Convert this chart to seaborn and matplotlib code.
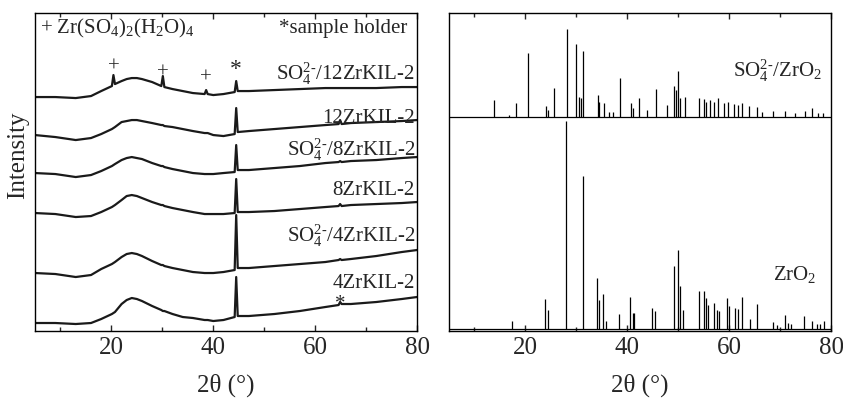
import matplotlib
matplotlib.use('Agg')
import matplotlib.pyplot as plt
import seaborn as sns
import pandas as pd
from matplotlib.ticker import MultipleLocator

# Left panel: XRD traces (stacked, arbitrary units)
two_theta = [5, 9, 13, 16, 18, 20.1, 20.4, 20.7, 22, 23, 24, 25, 26, 28, 29.8, 30.1, 30.4,
             32, 34, 36, 38.3, 38.6, 38.9, 40, 42, 44.2, 44.5, 44.8, 47, 52, 57, 62,
             64.6, 64.9, 65.2, 67, 72, 77, 80]
so4_12zr = [234, 234, 233, 235, 240, 245, 256, 247, 250, 252, 253, 253, 252, 249, 245, 255, 244,
            242, 240, 238, 237, 241, 237, 236, 237, 239, 250, 240, 240, 241, 242, 243,
            243, 243, 243, 243, 243, 244, 244]
zr12 = [196, 194, 191, 193, 197, 202, 203, 204, 209, 210, 211, 211, 210, 208, 206, 206, 205,
        204, 202, 200, 198, 198, 198, 196, 195, 197, 223, 199, 200, 202, 204, 206,
        207, 211, 207, 208, 209, 210, 211]
so4_8zr = [158, 157, 154, 156, 160, 165, 166, 167, 171, 173, 174, 173, 172, 168, 165, 165, 164,
           162, 160, 158, 157, 157, 157, 157, 158, 159, 186, 161, 161, 163, 165, 168,
           169, 170, 169, 170, 171, 173, 174]
zr8 = [118, 117, 114, 115, 119, 124, 125, 126, 131, 135, 136, 135, 133, 129, 126, 126, 125,
       123, 121, 119, 117, 117, 117, 117, 117, 118, 152, 119, 119, 120, 122, 124,
       125, 127, 125, 126, 127, 128, 129]
so4_4zr = [58, 57, 54, 56, 62, 67, 68, 69, 74, 77, 78, 77, 75, 70, 66, 66, 65,
           63, 61, 59, 58, 58, 58, 58, 59, 61, 116, 63, 63, 65, 67, 69,
           71, 72, 71, 72, 75, 79, 81]
zr4 = [8, 8, 7, 8, 12, 17, 18, 19, 27, 31, 33, 32, 30, 25, 21, 20, 20,
       17, 14, 13, 11, 11, 11, 10, 11, 14, 54, 15, 15, 17, 20, 24,
       26, 29, 27, 27, 29, 32, 34]
sample_names = [r'SO$_4^{2\text{-}}$/12ZrKIL-2', '12ZrKIL-2', r'SO$_4^{2\text{-}}$/8ZrKIL-2',
                '8ZrKIL-2', r'SO$_4^{2\text{-}}$/4ZrKIL-2', '4ZrKIL-2']

# Right panel: reference patterns (peak positions and heights above baseline)
so4_zro2_pos = [13.8, 16.8, 18.1, 20.5, 24.1, 24.4, 25.6, 28.2, 29.9, 30.6, 30.9, 31.4,
                34.2, 34.5, 35.5, 36.5, 37.2, 38.5, 40.7, 41.2, 42.3, 43.8, 45.7, 47.8,
                49.1, 49.5, 50.0, 50.4, 51.4, 54.0, 55.0, 55.5, 56.3, 57.0, 57.9, 58.9,
                59.7, 60.9, 61.8, 62.5, 63.8, 65.4, 66.4, 68.7, 71.0, 72.9, 74.9, 76.3,
                77.5, 78.4]
so4_zro2_int = [17, 2, 14, 64, 11, 7, 29, 88, 73, 20, 19, 66,
                22, 15, 14, 5, 5, 39, 14, 9, 19, 7, 28, 12,
                31, 27, 46, 19, 20, 19, 18, 15, 17, 15, 19, 14,
                15, 13, 12, 14, 11, 10, 5, 6, 6, 4, 6, 9,
                4, 4]
zro2_pos = [17.4, 23.9, 24.4, 28.0, 31.4, 34.0, 34.4, 35.2, 35.8, 38.4, 40.6, 41.1,
            41.4, 44.8, 45.4, 49.1, 50.0, 50.4, 51.0, 54.0, 55.1, 55.5, 55.9, 57.0,
            57.7, 58.1, 59.6, 60.0, 61.2, 61.7, 62.6, 64.0, 65.5, 68.6, 69.3, 71.0,
            71.6, 72.1, 74.7, 76.2, 77.2, 77.8, 78.6]
zro2_int = [8, 30, 19, 208, 153, 51, 29, 35, 8, 15, 32, 16,
            16, 21, 18, 63, 79, 43, 19, 38, 38, 31, 24, 26,
            19, 18, 31, 23, 21, 20, 32, 10, 25, 7, 4, 14,
            6, 5, 13, 8, 5, 5, 8]

sns.set_style('ticks')
plt.rcParams['font.family'] = ['Liberation Serif', 'DejaVu Serif']
plt.rcParams['mathtext.fontset'] = 'custom'
plt.rcParams['mathtext.rm'] = 'Liberation Serif'
plt.rcParams['mathtext.it'] = 'Liberation Serif:italic'
plt.rcParams['mathtext.bf'] = 'Liberation Serif:bold'

fig = plt.figure(figsize=(8.43, 3.99), dpi=100)
ax1 = fig.add_axes([0.0415, 0.1704, 0.4532, 0.7976])
ax2 = fig.add_axes([0.5326, 0.1704, 0.4532, 0.7976])

# left panel traces
df = pd.DataFrame({'two_theta': two_theta})
for name, vals in zip(sample_names, [so4_12zr, zr12, so4_8zr, zr8, so4_4zr, zr4]):
    sns.lineplot(x=df['two_theta'], y=vals, ax=ax1, color='#1a1a1a', lw=1.6,
                 estimator=None, sort=False)

label_y = [251, 208, 175, 136, 89, 43]
for name, y in zip(sample_names, label_y):
    ax1.text(79.6, y, name, ha='right', va='baseline', fontsize=15)

ax1.text(6.0, 298, r'+ Zr(SO$_4$)$_2$(H$_2$O)$_4$', ha='left', va='baseline', fontsize=15)
ax1.text(78.2, 298, '*sample holder', ha='right', va='baseline', fontsize=15)
for x, y in [(20.4, 264), (30.1, 258), (38.6, 253)]:
    ax1.text(x, y, '+', ha='center', va='center', fontsize=15)
ax1.text(44.5, 262, '*', ha='center', va='center', fontsize=17)
ax1.text(65.0, 27, '*', ha='center', va='center', fontsize=15)

# right panel stick patterns
upper_base = 214
lower_base = 2
sns.lineplot(x=[5, 80], y=[upper_base, upper_base], ax=ax2, color='k', lw=0.9)
sns.lineplot(x=[5, 80], y=[lower_base, lower_base], ax=ax2, color='k', lw=0.9)
ax2.vlines(so4_zro2_pos, upper_base, [upper_base + v for v in so4_zro2_int],
           color='k', lw=0.9)
ax2.vlines(zro2_pos, lower_base, [lower_base + v for v in zro2_int],
           color='k', lw=0.9)
ax2.text(78.2, 254, r'SO$_4^{2\text{-}}$/ZrO$_2$', ha='right', va='baseline', fontsize=15)
ax2.text(77.1, 51, r'ZrO$_2$', ha='right', va='baseline', fontsize=15)

for ax in (ax1, ax2):
    ax.set_xlim(5, 80)
    ax.set_ylim(0, 318.3)
    ax.set_yticks([])
    ax.set_ylabel('')
    ax.xaxis.set_major_locator(MultipleLocator(20))
    ax.xaxis.set_minor_locator(MultipleLocator(10))
    ax.tick_params(axis='x', which='both', direction='in', top=True, bottom=True,
                   labelsize=18, pad=4, width=1)
    ax.tick_params(axis='x', which='major', length=4)
    ax.tick_params(axis='x', which='minor', length=3)
    for s in ax.spines.values():
        s.set_visible(True)
        s.set_linewidth(1.0)
        s.set_color('k')
    ax.set_xlabel('2θ (°)', fontsize=18, labelpad=11)

ax1.set_ylabel('Intensity', fontsize=18)
ax1.yaxis.set_label_coords(-0.016, 0.553)

fig.savefig('out.png', dpi=100)
